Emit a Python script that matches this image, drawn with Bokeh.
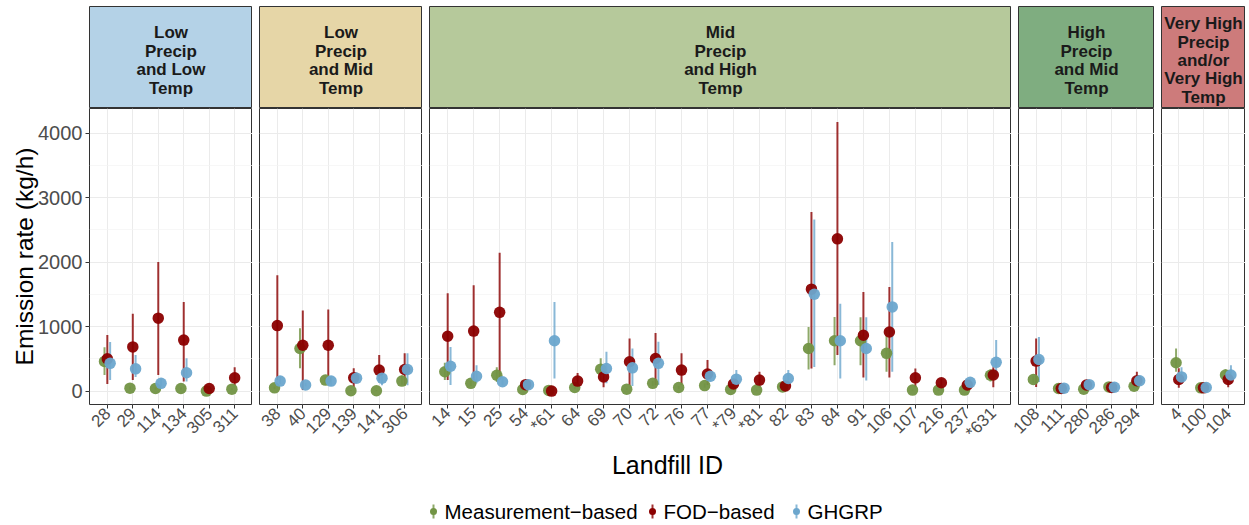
import math
import numpy as np
from bokeh.plotting import figure
from bokeh.layouts import row, column
from bokeh.models import ColumnDataSource, FactorRange, Range1d, FixedTicker
from bokeh.transform import dodge
from bokeh.embed import file_html
from bokeh.resources import INLINE
from bokeh.core.properties import value

nan = float("nan")

# Facet strips (precipitation / temperature regime) and their fill colours
regions = [
    "Low\nPrecip\nand Low\nTemp",
    "Low\nPrecip\nand Mid\nTemp",
    "Mid\nPrecip\nand High\nTemp",
    "High\nPrecip\nand Mid\nTemp",
    "Very High\nPrecip\nand/or\nVery High\nTemp",
]
region_colors = ["#B4D2E7", "#E6D6A7", "#B6C99B", "#7FAD80", "#CD7B7B"]

# Landfill IDs and the facet each belongs to
landfill_id = [
    "28", "29", "114", "134", "305", "311",
    "38", "40", "129", "139", "141", "306",
    "14", "15", "25", "54", "*61", "64", "69", "70", "72", "76", "77",
    "*79", "*81", "82", "83", "84", "91", "106", "107", "216", "237", "*631",
    "108", "111", "280", "286", "294",
    "4", "100", "104",
]
region_of = [0] * 6 + [1] * 6 + [2] * 22 + [3] * 5 + [4] * 3

# Emission rates (kg/h): estimate with lower / upper bounds
meas = [460, 45, 40, 40, 0, 30,
        50, 660, 170, 5, 5, 155,
        300, 120, 245, 25, 10, 55, 340, 30, 120, 55, 85,
        25, 15, 65, 660, 780, 780, 585, 15, 15, 15, 245,
        180, 40, 30, 65, 75,
        440, 50, 250]
meas_lo = [250, 20, 20, 20, 0, 15,
           30, 355, 130, 0, 0, 100,
           170, 80, 140, 10, 0, 30, 170, 15, 80, 30, 50,
           10, 5, 40, 335, 400, 400, 300, 5, 5, 5, 150,
           130, 30, 20, 50, 50,
           300, 35, 150]
meas_hi = [680, 70, 60, 60, 10, 45,
           70, 975, 210, 15, 15, 240,
           440, 160, 370, 40, 25, 80, 510, 45, 160, 80, 120,
           40, 25, 90, 995, 1150, 1145, 950, 25, 25, 25, 340,
           230, 50, 40, 80, 100,
           660, 65, 340]

fod = [500, 685, 1130, 790, 40, 205,
       1015, 710, 710, 205, 325, 335,
       850, 930, 1220, 100, 0, 155, 220, 455, 505, 325, 265,
       110, 170, 80, 1580, 2360, 865, 915, 205, 130, 95, 250,
       465, 40, 95, 55, 160,
       180, 50, 180]
fod_lo = [110, 170, 250, 150, 20, 90,
          170, 15, 170, 65, 150, 90,
          170, 170, 220, 60, 0, 60, 60, 95, 95, 95, 95,
          40, 55, 50, 350, 560, 210, 210, 60, 70, 50, 60,
          65, 25, 60, 40, 60,
          50, 35, 60]
fod_hi = [870, 1200, 2000, 1380, 70, 370,
          1795, 1250, 1265, 355, 560, 585,
          1515, 1640, 2145, 140, 10, 280, 355, 815, 900, 585, 480,
          180, 300, 110, 2775, 4170, 1535, 1615, 350, 190, 140, 370,
          815, 55, 130, 70, 300,
          355, 65, 325]

ghgrp = [430, 345, 120, 285, nan, nan,
         155, 95, 155, 200, 200, 335,
         385, 230, 145, 100, 780, nan, 350, 360, 430, nan, 230,
         185, nan, 195, 1500, 780, 660, 1305, nan, nan, 135, 445,
         490, 45, 100, 60, 160,
         220, 55, 250]
ghgrp_lo = [170, 220, 70, 150, nan, nan,
            110, 70, 80, 140, 90, 90,
            95, 120, 90, 60, 195, nan, 120, 80, 95, nan, 150,
            80, nan, 80, 375, 195, 165, 300, nan, nan, 80, 220,
            140, 30, 70, 45, 90,
            120, 40, 120]
ghgrp_hi = [760, 560, 190, 510, nan, nan,
            230, 130, 230, 290, 260, 585,
            685, 400, 220, 140, 1380, nan, 610, 660, 765, nan, 320,
            325, nan, 325, 2660, 1355, 1145, 2310, nan, nan, 190, 790,
            840, 60, 130, 75, 240,
            370, 70, 400]

series_names = ["Measurement\u2212based", "FOD\u2212based", "GHGRP"]
series_keys = ["meas", "fod", "ghgrp"]
series_colors = ["#729444", "#8B0000", "#6CA6CD"]
series_offsets = [-0.11, 0.0, 0.11]

y_ticks = [0, 1000, 2000, 3000, 4000]
y_minor = [500, 1500, 2500, 3500]

FONT = "Liberation Sans"
UNIT = 26.23          # px per category
FRAME_H = 296
STRIP_H = 102
TOP = 6
LEFT = 89
GAP = 7
BOTTOM_AXIS = 48

columns = dict(meas=meas, meas_lo=meas_lo, meas_hi=meas_hi,
               fod=fod, fod_lo=fod_lo, fod_hi=fod_hi,
               ghgrp=ghgrp, ghgrp_lo=ghgrp_lo, ghgrp_hi=ghgrp_hi)

y_range = Range1d(-208, 4380)
strips, panels, widths = [], [], []

for k, reg in enumerate(regions):
    idx = [i for i, r in enumerate(region_of) if r == k]
    ids = [landfill_id[i] for i in idx]
    data = {"id": ids}
    for name, vals in columns.items():
        data[name] = np.array([vals[i] for i in idx], dtype=float)
    src = ColumnDataSource(data)

    fw = round((len(ids) + 0.2) * UNIT)
    widths.append(fw)
    first = k == 0
    left = LEFT if first else GAP   # the gap lives inside each canvas so labels are not clipped

    # strip header
    s = figure(x_range=Range1d(0, 1), y_range=Range1d(0, 1),
               frame_width=fw, frame_height=STRIP_H,
               x_axis_location=None, y_axis_location=None,
               min_border_left=left, min_border_right=0,
               min_border_top=TOP, min_border_bottom=0,
               background_fill_color=region_colors[k],
               outline_line_color="#333333", outline_line_width=1,
               output_backend="svg", toolbar_location=None)
    s.grid.visible = False
    s.text(x=[0.5], y=[0.47], text=[reg], text_align="center",
           text_baseline="middle", text_font=value(FONT),
           text_font_style="bold", text_font_size="17px",
           text_line_height=0.97, text_color="#1A1A1A")
    strips.append(s)

    # data panel
    xr = FactorRange(factors=ids, range_padding=0.2, range_padding_units="absolute")
    p = figure(x_range=xr, y_range=y_range, frame_width=fw, frame_height=FRAME_H,
               y_axis_location="left" if first else None,
               min_border_left=left, min_border_right=0,
               min_border_top=0, min_border_bottom=BOTTOM_AXIS,
               outline_line_color="#333333", outline_line_width=1,
               output_backend="svg", toolbar_location=None)
    p.xgrid.grid_line_color = "#EBEBEB"
    p.ygrid.ticker = FixedTicker(ticks=y_ticks, minor_ticks=y_minor)
    p.ygrid.grid_line_color = "#EBEBEB"
    p.ygrid.grid_line_width = 1.1
    p.ygrid.minor_grid_line_color = "#F3F3F3"
    p.ygrid.minor_grid_line_width = 0.7

    xa = p.xaxis[0]
    xa.axis_line_color = None
    xa.major_tick_line_color = "#333333"
    xa.major_tick_out = 4
    xa.major_tick_in = 0
    xa.major_label_orientation = math.pi / 4
    xa.major_label_text_font = FONT
    xa.major_label_text_font_size = "17px"
    xa.major_label_text_color = "#4D4D4D"
    xa.major_label_standoff = 2

    if first:
        ya = p.yaxis[0]
        ya.ticker = FixedTicker(ticks=y_ticks)
        ya.axis_line_color = None
        ya.major_tick_line_color = "#333333"
        ya.major_tick_out = 4
        ya.major_tick_in = 0
        ya.minor_tick_line_color = None
        ya.major_label_text_font = FONT
        ya.major_label_text_font_size = "20px"
        ya.major_label_text_color = "#4D4D4D"
        ya.major_label_standoff = 3
        ya.axis_label = "Emission rate (kg/h)"
        ya.axis_label_text_font = FONT
        ya.axis_label_text_font_size = "24.5px"
        ya.axis_label_text_font_style = "normal"
        ya.axis_label_text_color = "#000000"
        ya.axis_label_standoff = -3

    for key, off, col in zip(series_keys, series_offsets, series_colors):
        xd = dodge("id", off, range=xr)
        p.segment(x0=xd, y0=key + "_lo", x1=xd, y1=key + "_hi", source=src,
                  line_color=col, line_width=2, line_alpha=0.8)
    for key, off, col in zip(series_keys, series_offsets, series_colors):
        xd = dodge("id", off, range=xr)
        p.scatter(x=xd, y=key, source=src, size=11.5, fill_color=col,
                  line_color=None, fill_alpha=0.95)
    panels.append(p)

total_w = LEFT + sum(widths) + GAP * (len(widths) - 1)
BH = 525 - (TOP + STRIP_H) - (FRAME_H + BOTTOM_AXIS)

# shared x-axis title and legend
b = figure(x_range=Range1d(0, total_w), y_range=Range1d(0, BH),
           width=total_w, height=BH, min_border=0,
           x_axis_location=None, y_axis_location=None,
           outline_line_color=None, output_backend="svg", toolbar_location=None)
b.grid.visible = False
b.text(x=[LEFT + (total_w - LEFT) / 2], y=[BH - 12], text=["Landfill ID"],
       text_align="center", text_baseline="middle", text_font=value(FONT),
       text_font_size="25px", text_color="#000000")

key_x = [433, 652, 796]
key_y = BH - 59
for name, col, kx in zip(series_names, series_colors, key_x):
    b.segment(x0=[kx], y0=[key_y - 7], x1=[kx], y1=[key_y + 7],
              line_color=col, line_width=2, line_alpha=0.8)
    b.scatter(x=[kx], y=[key_y], size=7, fill_color=col, line_color=None)
    b.text(x=[kx + 11], y=[key_y], text=[name], text_align="left",
           text_baseline="middle", text_font=value(FONT),
           text_font_size="20.5px", text_color="#000000")

layout = column(row(*strips), row(*panels), b)

with open("out.html", "w") as f:
    f.write(file_html(layout, INLINE))
